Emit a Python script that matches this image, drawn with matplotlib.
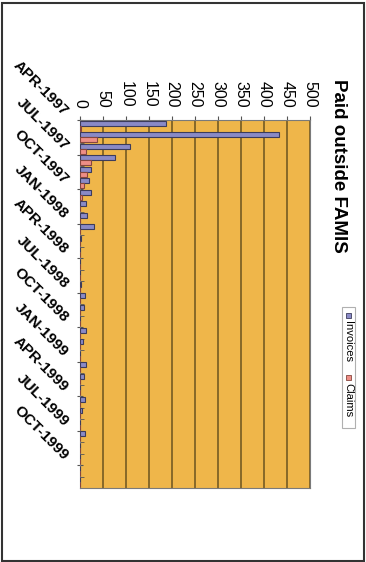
import numpy as np
import matplotlib
matplotlib.use("Agg")
import matplotlib.pyplot as plt
from matplotlib.patches import Rectangle

plt.rcParams['font.family'] = ['Liberation Sans', 'DejaVu Sans']

# data (monthly, APR-1997 .. NOV-1999)
months = ['APR-1997', 'MAY-1997', 'JUN-1997', 'JUL-1997', 'AUG-1997', 'SEP-1997',
          'OCT-1997', 'NOV-1997', 'DEC-1997', 'JAN-1998', 'FEB-1998', 'MAR-1998',
          'APR-1998', 'MAY-1998', 'JUN-1998', 'JUL-1998', 'AUG-1998', 'SEP-1998',
          'OCT-1998', 'NOV-1998', 'DEC-1998', 'JAN-1999', 'FEB-1999', 'MAR-1999',
          'APR-1999', 'MAY-1999', 'JUN-1999', 'JUL-1999', 'AUG-1999', 'SEP-1999',
          'OCT-1999', 'NOV-1999']
invoices = [187, 432, 109, 75, 24, 19, 23, 12, 16, 30, 3, 1, 0, 0, 2, 11, 9, 0,
            12, 6, 0, 12, 9, 0, 11, 5, 0, 10, 0, 0, 0, 0]
claims = [2, 37, 14, 23, 16, 9, 4, 1, 0, 0, 0, 0, 0, 0, 0, 0, 0, 0,
          0, 0, 0, 0, 0, 0, 0, 0, 0, 0, 0, 0, 0, 0]
value_ticks = list(range(0, 501, 50))
labeled = months[::3]

W, H = 366, 562
fig = plt.figure(figsize=(W / 100, H / 100), dpi=100)
fig.patch.set_facecolor('white')

# outer frame
fig.add_artist(Rectangle((1.5 / W, 1.5 / H), 1 - 4 / W, 1 - 4 / H, transform=fig.transFigure,
                         fill=False, ec='#333333', lw=1.5))

ax = fig.add_axes([80 / W, 1 - 488 / H, 230 / W, 368 / H])
ax.set_facecolor('#EFB64A')

n = len(months)
pos = np.arange(n)
bw = 0.44
ax.barh(pos - 0.22, invoices, height=bw, color='#8A8AC6', edgecolor='#3c3c5c', lw=0.8, zorder=3)
ax.barh(pos + 0.22, claims, height=bw, color='#EE8E86', edgecolor='#86473e', lw=0.8, zorder=3)

ax.set_xlim(0, 500)
ax.set_ylim(n - 0.5, -0.5)
ax.xaxis.tick_top()
ax.set_xticks(value_ticks)
ax.set_xticklabels([str(v) for v in value_ticks], rotation=-90, fontsize=11.5)
ax.tick_params(axis='x', length=3, pad=6, color='#555555')
ax.grid(axis='x', color='#6a5420', lw=1.1, zorder=1)

# category tick marks between months, every 3 months a longer one
ax.set_yticks(np.arange(-0.5, n, 3))
ax.set_yticklabels([])
ax.set_yticks(np.arange(-0.5, n, 1), minor=True)
ax.tick_params(axis='y', which='major', length=5, direction='inout', color='#555555')
ax.tick_params(axis='y', which='minor', length=3, direction='in', color='#555555')

for i, lab in enumerate(months):
    if lab in labeled:
        ax.annotate(lab, xy=(0, i), xytext=(-10, 9), textcoords='offset points',
                    rotation=-45, rotation_mode='anchor', ha='right', va='center',
                    fontsize=11, fontweight='bold', annotation_clip=False)

for s in ax.spines.values():
    s.set_color('#7a7a7a')
    s.set_linewidth(0.8)

# title and legend (chart is turned on its side)
fig.text(338 / W, 1 - 166 / H, 'Paid outside FAMIS', rotation=-90, ha='center', va='center',
         fontsize=13.5, fontweight='bold')

fig.add_artist(Rectangle((342 / W, 1 - 428 / H), 13 / W, 121 / H, transform=fig.transFigure,
                         fill=True, fc='white', ec='#b0b0b0', lw=0.8))
fig.add_artist(Rectangle((345.5 / W, 1 - 318 / H), 5 / W, 5 / H, transform=fig.transFigure,
                         fc='#8A8AC6', ec='#3c3c5c', lw=0.6))
fig.add_artist(Rectangle((345.5 / W, 1 - 380 / H), 5 / W, 5 / H, transform=fig.transFigure,
                         fc='#EE8E86', ec='#86473e', lw=0.6))
fig.text(348.5 / W, 1 - 321 / H, 'Invoices', rotation=-90, ha='center', va='top', fontsize=8)
fig.text(348.5 / W, 1 - 383 / H, 'Claims', rotation=-90, ha='center', va='top', fontsize=8)

fig.savefig('out.png', dpi=100, facecolor='white')
